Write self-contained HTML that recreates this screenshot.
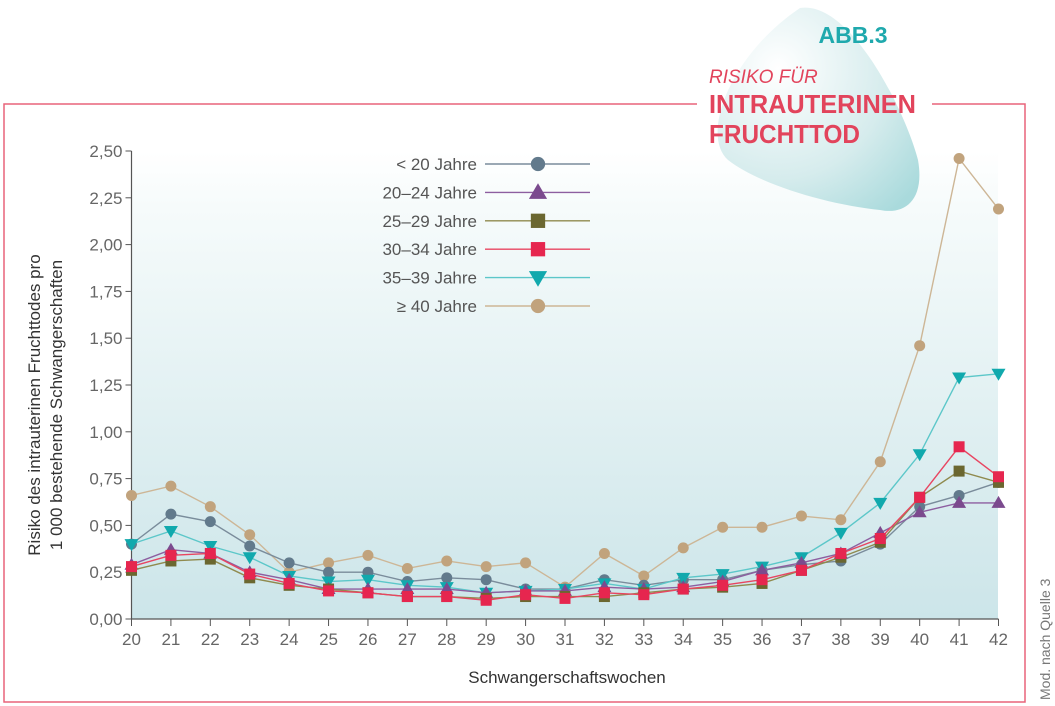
<!DOCTYPE html>
<html><head><meta charset="utf-8">
<style>
body{margin:0;background:#fff;font-family:"Liberation Sans",sans-serif;}
svg{display:block}
</style></head>
<body>
<svg id="c" width="1055" height="706" viewBox="0 0 1055 706" xmlns="http://www.w3.org/2000/svg">
<defs>
<linearGradient id="bg" x1="0" y1="0" x2="0" y2="1">
<stop offset="0" stop-color="#ffffff"/><stop offset="0.12" stop-color="#f6fbfb"/><stop offset="1" stop-color="#cce5e9"/>
</linearGradient>
<radialGradient id="blob" cx="0.3" cy="0.3" r="0.9">
<stop offset="0" stop-color="#ffffff"/><stop offset="0.6" stop-color="#d6eced"/><stop offset="1" stop-color="#a9dadc"/>
</radialGradient>
</defs>
<path d="M697,104 H4 V702 H1025 V104 H932" fill="none" stroke="#e8647a" stroke-width="1.5"/>
<rect x="131" y="151" width="867" height="468" fill="url(#bg)"/>
<path d="M800,8 C850,0 905,110 918,160 C925,200 905,215 880,210 C830,205 760,185 728,160 C700,135 730,55 800,8 Z" fill="url(#blob)"/>
<text x="853" y="43" text-anchor="middle" font-size="23" font-weight="bold" fill="#1fa9ad">ABB.3</text>
<text x="709" y="83" font-size="19" font-style="italic" fill="#e2445c">RISIKO FÜR</text>
<text x="709" y="113" font-size="26" font-weight="bold" fill="#e2445c" textLength="207" lengthAdjust="spacingAndGlyphs">INTRAUTERINEN</text>
<text x="709" y="143" font-size="26" font-weight="bold" fill="#e2445c" textLength="151" lengthAdjust="spacingAndGlyphs">FRUCHTTOD</text>
<g id="axes"></g>
<g id="series"></g>
<g id="legend"></g>
<text transform="translate(40,405) rotate(-90)" text-anchor="middle" font-size="17" fill="#333">Risiko des intrauterinen Fruchttodes pro</text>
<text transform="translate(62,405) rotate(-90)" text-anchor="middle" font-size="17" fill="#333">1 000 bestehende Schwangerschaften</text>
<text x="567" y="683" text-anchor="middle" font-size="17" fill="#333">Schwangerschaftswochen</text>
<text transform="translate(1050,700) rotate(-90)" font-size="14" fill="#777">Mod. nach Quelle 3</text>
</svg>
<script>
const weeks=[20,21,22,23,24,25,26,27,28,29,30,31,32,33,34,35,36,37,38,39,40,41,42];
const yTicks=[0,0.25,0.5,0.75,1,1.25,1.5,1.75,2,2.25,2.5];
const yTickLabels=["0,00","0,25","0,50","0,75","1,00","1,25","1,50","1,75","2,00","2,25","2,50"];
const seriesNames=["< 20 Jahre","20–24 Jahre","25–29 Jahre","30–34 Jahre","35–39 Jahre","≥ 40 Jahre"];
const sU20=[0.40,0.56,0.52,0.39,0.30,0.25,0.25,0.20,0.22,0.21,0.16,0.16,0.21,0.18,0.21,0.21,0.26,0.29,0.31,0.40,0.60,0.66,0.73];
const s20=[0.29,0.37,0.35,0.25,0.21,0.16,0.16,0.16,0.16,0.14,0.15,0.15,0.17,0.16,0.17,0.20,0.26,0.30,0.35,0.46,0.57,0.62,0.62];
const s25=[0.26,0.31,0.32,0.22,0.18,0.16,0.14,0.12,0.12,0.11,0.12,0.12,0.12,0.14,0.16,0.17,0.19,0.26,0.33,0.41,0.65,0.79,0.73];
const s30=[0.28,0.34,0.35,0.24,0.19,0.15,0.14,0.12,0.12,0.10,0.13,0.11,0.14,0.13,0.16,0.18,0.21,0.26,0.35,0.43,0.65,0.92,0.76];
const s35=[0.40,0.47,0.39,0.33,0.23,0.20,0.21,0.18,0.17,0.14,0.15,0.16,0.19,0.16,0.22,0.24,0.28,0.33,0.46,0.62,0.88,1.29,1.31];
const s40=[0.66,0.71,0.60,0.45,0.25,0.30,0.34,0.27,0.31,0.28,0.30,0.17,0.35,0.23,0.38,0.49,0.49,0.55,0.53,0.84,1.46,2.46,2.19];

const NS="http://www.w3.org/2000/svg";
const X0=131.5,X1=998.5,Y0=619,Y1=151;
const xs=w=>X0+(w-weeks[0])/(weeks[weeks.length-1]-weeks[0])*(X1-X0);
const ys=v=>Y0-v/2.5*(Y0-Y1);
function mk(tag,attrs,parent){const e=document.createElementNS(NS,tag);for(const k in attrs)e.setAttribute(k,attrs[k]);parent.appendChild(e);return e;}
const axes=document.getElementById('axes');
let ax=mk('line',{x1:X0,y1:Y1,x2:X0,y2:Y0,stroke:'#555','stroke-width':1.2},axes);


let bx=mk('line',{x1:X0,y1:Y0,x2:X1,y2:Y0,stroke:'#555','stroke-width':1.2},axes);


yTicks.forEach((v,i)=>{
  mk('line',{x1:X0-6,y1:ys(v),x2:X0,y2:ys(v),stroke:'#555'},axes);
  const t=mk('text',{x:X0-9,y:ys(v)+6,'text-anchor':'end','font-size':17,fill:'#666'},axes);
  t.textContent=yTickLabels[i];
  
  
});
weeks.forEach(w=>{
  mk('line',{x1:xs(w),y1:Y0,x2:xs(w),y2:Y0+7,stroke:'#555'},axes);
  const t=mk('text',{x:xs(w),y:Y0+26,'text-anchor':'middle','font-size':17,fill:'#666'},axes);
  t.textContent=w;
  
  
});
const allSeries=[s40,sU20,s35,s20,s25,s30];
const styles=[
 {name:seriesNames[5],color:'#c1a37d',line:'#cdb696',shape:'circle'},
 {name:seriesNames[0],color:'#627a8c',line:'#7a8c9b',shape:'circle'},
 {name:seriesNames[4],color:'#11a9ad',line:'#5cc7c9',shape:'down'},
 {name:seriesNames[1],color:'#7b4a8e',line:'#8d5ea0',shape:'up'},
 {name:seriesNames[2],color:'#6b6730',line:'#8f8a4e',shape:'square'},
 {name:seriesNames[3],color:'#e6264f',line:'#e84561',shape:'square'}
];
function marker(shape,x,y,c,p,s){
  s=s||1;
  if(shape==='circle')return mk('circle',{cx:x,cy:y,r:5.5*s,fill:c},p);
  if(shape==='square')return mk('rect',{x:x-5.5*s,y:y-5.5*s,width:11*s,height:11*s,fill:c},p);
  if(shape==='up')return mk('polygon',{points:`${x},${y-7*s} ${x-7*s},${y+5*s} ${x+7*s},${y+5*s}`,fill:c},p);
  return mk('polygon',{points:`${x},${y+7*s} ${x-7*s},${y-5*s} ${x+7*s},${y-5*s}`,fill:c},p);
}
const sg=document.getElementById('series');
styles.forEach((st,k)=>{
  const data=allSeries[k];
  const g=mk('g',{},sg);
  
  
  const pl=mk('polyline',{points:data.map((v,i)=>xs(weeks[i])+','+ys(v)).join(' '),fill:'none',stroke:st.line,'stroke-width':1.4},g);
  
  
  data.forEach((v,i)=>{
    const m=marker(st.shape,xs(weeks[i]),ys(v),st.color,g);
    
    
  });
});
const lg=document.getElementById('legend');
const legOrder=[1,3,4,5,2,0];
legOrder.forEach((k,r)=>{
  const st=styles[k];const y=164+r*28.4;
  const g=mk('g',{},lg);
  
  
  mk('line',{x1:485,y1:y,x2:590,y2:y,stroke:st.line,'stroke-width':1.4},g);
  marker(st.shape,538,y,st.color,g,1.3);
  const t=mk('text',{x:477,y:y+6,'text-anchor':'end','font-size':17,fill:'#555'},g);
  t.textContent=st.name;
});
</script>
</body></html>
